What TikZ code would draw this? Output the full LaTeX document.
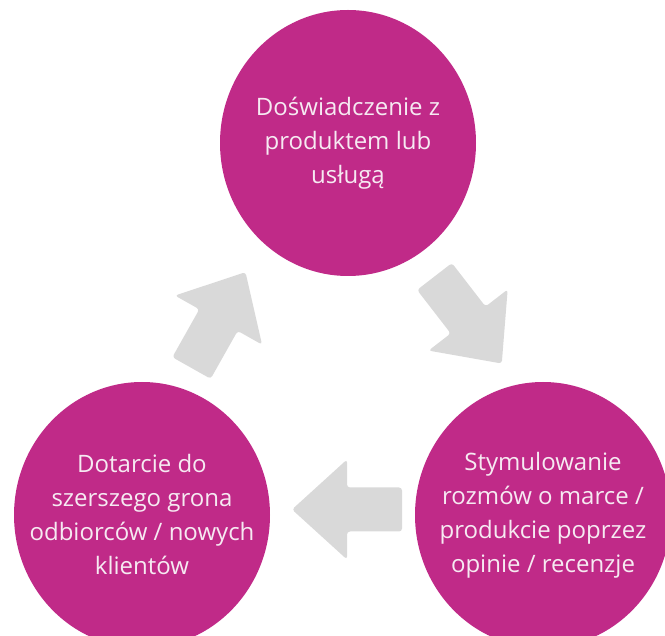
\documentclass[tikz,border=0pt]{standalone}
\usepackage{fontspec}
\setmainfont{Open Sans}
\usetikzlibrary{shapes.geometric}
\definecolor{mag}{RGB}{192,42,136}
\definecolor{agray}{RGB}{217,217,217}
\definecolor{txt}{RGB}{246,234,242}
\begin{document}
\begin{tikzpicture}[x=1pt,y=-1pt,
  bubble/.style={ellipse, fill=mag, minimum width=256pt, minimum height=266pt, inner sep=0pt},
  bubbletext/.style={text=txt, align=center, font=\fontsize{24}{34}\selectfont, inner sep=0pt},
  blockarrow/.pic={\fill[agray, rounded corners=3pt] (0,-22) -- (55,-22) -- (55,-50) -- (110,0) -- (55,50) -- (55,22) -- (0,22) -- cycle;}]
\useasboundingbox (0,0) rectangle (665,636);
\node[bubble] (top) at (348,143) {};
\node[bubble] (bl) at (142,515) {};
\node[bubble] (br) at (543,515) {};
\node[bubbletext] (ttop) at (top.center) {Doświadczenie z\\produktem lub\\usługą};
\node[bubbletext] (tbl) at (bl.center) {Dotarcie do\\szerszego grona\\odbiorców / nowych\\klientów};
\node[bubbletext] (tbr) at (br.center) {Stymulowanie\\rozmów o marce /\\produkcie poprzez\\opinie / recenzje};
\pic[rotate=60.6] at (191.5,368) {blockarrow};
\pic[rotate=-52.3] at (434.5,276.5) {blockarrow};
\pic[rotate=180] at (402,509.5) {blockarrow};
\end{tikzpicture}
\end{document}
